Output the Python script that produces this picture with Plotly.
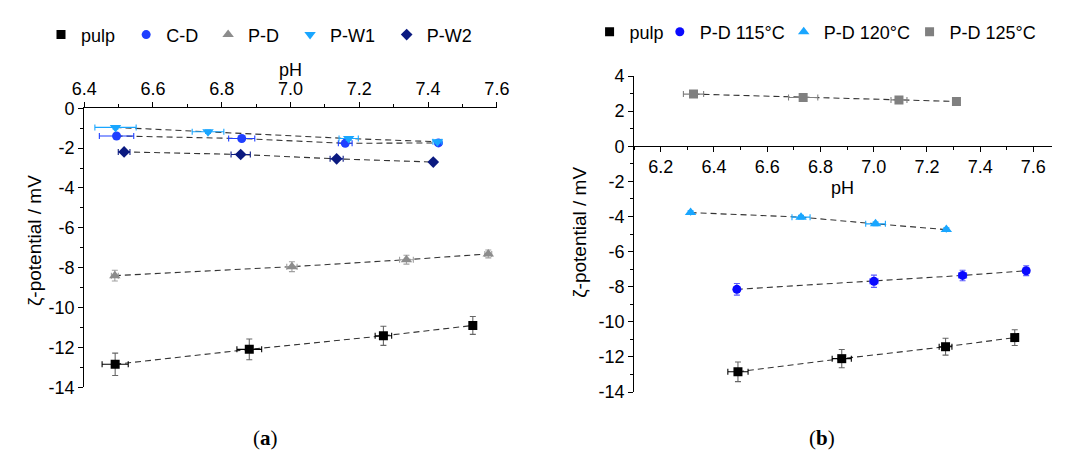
import plotly.graph_objects as go

W, H = 1065, 462
FONT = "Liberation Sans"

# ---------------- data: panel (a) ----------------
pulp_ph = [6.49, 6.88, 7.27, 7.53]
pulp_zeta = [-12.85, -12.10, -11.42, -10.90]
pulp_ph_err = [0.038, 0.036, 0.024, 0.0]
pulp_zeta_err = [0.56, 0.52, 0.48, 0.45]

cd_ph = [6.494, 6.858, 7.159, 7.430]
cd_zeta = [-1.39, -1.52, -1.76, -1.74]
cd_ph_err = [0.05, 0.038, 0.02, 0.008]
cd_zeta_err = [0.08, 0.08, 0.08, 0.08]

pd_ph = [6.489, 7.004, 7.337, 7.575]
pd_zeta = [-8.40, -7.95, -7.60, -7.31]
pd_ph_err = [0.01, 0.015, 0.02, 0.01]
pd_zeta_err = [0.27, 0.25, 0.22, 0.20]

pw1_ph = [6.491, 6.760, 7.169, 7.427]
pw1_zeta = [-0.96, -1.18, -1.52, -1.68]
pw1_ph_err = [0.06, 0.046, 0.028, 0.013]
pw1_zeta_err = [0.08, 0.08, 0.08, 0.08]

pw2_ph = [6.516, 6.855, 7.134, 7.415]
pw2_zeta = [-2.19, -2.32, -2.54, -2.70]
pw2_ph_err = [0.017, 0.028, 0.019, 0.0]
pw2_zeta_err = [0.06, 0.06, 0.06, 0.06]

# ---------------- data: panel (b) ----------------
pd115_ph = [6.486, 7.001, 7.334, 7.573]
pd115_zeta = [-8.15, -7.69, -7.36, -7.09]
pd115_ph_err = [0.01, 0.015, 0.015, 0.01]
pd115_zeta_err = [0.33, 0.35, 0.30, 0.28]

pd120_ph = [6.312, 6.727, 7.007, 7.273]
pd120_zeta = [-3.78, -4.04, -4.42, -4.75]
pd120_ph_err = [0.0, 0.034, 0.037, 0.0]
pd120_zeta_err = [0.1, 0.1, 0.1, 0.1]

pd125_ph = [6.323, 6.735, 7.095, 7.311]
pd125_zeta = [2.97, 2.78, 2.64, 2.55]
pd125_ph_err = [0.038, 0.055, 0.03, 0.0]
pd125_zeta_err = [0.1, 0.1, 0.1, 0.1]

# ---------------- tick labels ----------------
ya_ticks = [0, -2, -4, -6, -8, -10, -12, -14]
ya_labels = ["0", "-2", "-4", "-6", "-8", "-10", "-12", "-14"]
yb_ticks = [4, 2, 0, -2, -4, -6, -8, -10, -12, -14]
yb_labels = ["4", "2", "0", "-2", "-4", "-6", "-8", "-10", "-12", "-14"]

series_a = [
    ("pulp", pulp_ph, pulp_zeta, pulp_ph_err, pulp_zeta_err, "square", 9, "#000000", "#000000", "#666666", 67.7),
    ("C-D", cd_ph, cd_zeta, cd_ph_err, cd_zeta_err, "circle", 9, "#1f3fff", "#1f3fff", "#1f3fff", 155),
    ("P-D", pd_ph, pd_zeta, pd_ph_err, pd_zeta_err, "triangle-up", 10, "#8c8c8c", "#a0a0a0", "#a0a0a0", 239),
    ("P-W1", pw1_ph, pw1_zeta, pw1_ph_err, pw1_zeta_err, "triangle-down", 10, "#19a6ff", "#19a6ff", "#19a6ff", 323),
    ("P-W2", pw2_ph, pw2_zeta, pw2_ph_err, pw2_zeta_err, "diamond", 9, "#0b1a80", "#0b1a80", "#0b1a80", 422),
]
series_b = [
    ("pulp", pulp_ph, pulp_zeta, pulp_ph_err, pulp_zeta_err, "square", 9, "#000000", "#000000", "#666666", 630),
    ("P-D 115°C", pd115_ph, pd115_zeta, pd115_ph_err, pd115_zeta_err, "circle", 9, "#0a0aff", "#5a5aff", "#5a5aff", 702),
    ("P-D 120°C", pd120_ph, pd120_zeta, pd120_ph_err, pd120_zeta_err, "triangle-up", 10, "#19a6ff", "#19a6ff", "#19a6ff", 829),
    ("P-D 125°C", pd125_ph, pd125_zeta, pd125_ph_err, pd125_zeta_err, "square", 9, "#808080", "#808080", "#808080", 958),
]

fig = go.Figure()
legends = {}
n = 0


def add_series(series, xa, ya, legend_y_px):
    global n
    for name, xs, ys, xe, ye, sym, size, col, xcol, ycol, text_px in series:
        n += 1
        lg = "legend" if n == 1 else f"legend{n}"
        fig.add_trace(go.Scatter(
            x=xs, y=ys, mode="lines", xaxis=xa, yaxis=ya, showlegend=False,
            line=dict(color="#333333", width=1.1, dash="6px,4px"), hoverinfo="skip"))
        fig.add_trace(go.Scatter(
            x=xs, y=ys, mode="markers", name=name, xaxis=xa, yaxis=ya, legend=lg,
            marker=dict(symbol=sym, size=size, color=col, line=dict(width=0)),
            error_x=dict(type="data", array=xe, visible=True, color=xcol, thickness=1.1, width=3),
            error_y=dict(type="data", array=ye, visible=True, color=ycol, thickness=1.1, width=3)))
        legends[lg] = dict(
            x=(text_px + 1 - 40) / W, y=1 - legend_y_px / H, xanchor="left", yanchor="middle",
            orientation="h", bgcolor="rgba(0,0,0,0)", borderwidth=0, itemwidth=30,
            font=dict(family=FONT, size=18, color="#000000"))


add_series(series_a, "x", "y", 26)
add_series(series_b, "x2", "y2", 23)

axis_common = dict(
    showline=True, linecolor="#000000", linewidth=1, showgrid=False, zeroline=False,
    ticks="outside", ticklen=5, tickwidth=1, tickcolor="#000000",
    tickfont=dict(family=FONT, size=18, color="#000000"),
)

fig.update_layout(
    width=W, height=H, margin=dict(l=0, r=0, t=0, b=0),
    paper_bgcolor="#ffffff", plot_bgcolor="#ffffff",
    font=dict(family=FONT, size=18, color="#000000"),
    xaxis=dict(domain=[73 / W, 496 / W], range=[6.4, 7.6], side="top", anchor="y",
               tick0=6.4, dtick=0.2, tickformat=".1f",
               minor=dict(dtick=0.1, ticks="outside", ticklen=3, tickcolor="#000000"),
               **axis_common),
    yaxis=dict(domain=[1 - 394.3 / H, 1 - 102.7 / H], range=[-14, 0], anchor="x",
               tickmode="array", tickvals=ya_ticks, ticktext=ya_labels,
               minor=dict(dtick=1, tick0=0, ticks="outside", ticklen=3, tickcolor="#000000"),
               **axis_common),
    xaxis2=dict(domain=[636.7 / W, 1.0], range=[6.1, 7.67], anchor="free",
                position=1 - 141.7 / H, side="bottom",
                tick0=6.2, dtick=0.2, tickformat=".1f",
                minor=dict(dtick=0.1, ticks="outside", ticklen=3, tickcolor="#000000"),
                **axis_common),
    yaxis2=dict(domain=[1 - 399.3 / H, 1 - 69 / H], range=[-14, 4], anchor="x2",
                tickmode="array", tickvals=yb_ticks, ticktext=yb_labels,
                minor=dict(dtick=1, tick0=0, ticks="outside", ticklen=3, tickcolor="#000000"),
                **axis_common),
    **legends,
)

ann_font = dict(family=FONT, size=18, color="#000000")
title_font = dict(family=FONT, size=19, color="#000000")
fig.add_annotation(text="pH", x=284.5 / W, y=1 - 63 / H, xref="paper", yref="paper",
                   showarrow=False, font=ann_font, xanchor="center", yanchor="middle")
fig.add_annotation(text="pH", x=850 / W, y=1 - 186 / H, xref="paper", yref="paper",
                   showarrow=False, font=ann_font, xanchor="center", yanchor="middle")
fig.add_annotation(text="ζ-potential / mV", x=22 / W, y=1 - 241 / H, xref="paper", yref="paper",
                   showarrow=False, font=title_font, textangle=-90, xanchor="center", yanchor="middle")
fig.add_annotation(text="ζ-potential / mV", x=581 / W, y=1 - 232 / H, xref="paper", yref="paper",
                   showarrow=False, font=title_font, textangle=-90, xanchor="center", yanchor="middle")
lab_font = dict(family="Liberation Serif", size=21, color="#000000")
fig.add_annotation(text="(<b>a</b>)", x=259 / W, y=1 - 447 / H, xref="paper", yref="paper",
                   showarrow=False, font=lab_font, xanchor="center", yanchor="middle")
fig.add_annotation(text="(<b>b</b>)", x=829 / W, y=1 - 447 / H, xref="paper", yref="paper",
                   showarrow=False, font=lab_font, xanchor="center", yanchor="middle")

fig.write_html("out.html")
